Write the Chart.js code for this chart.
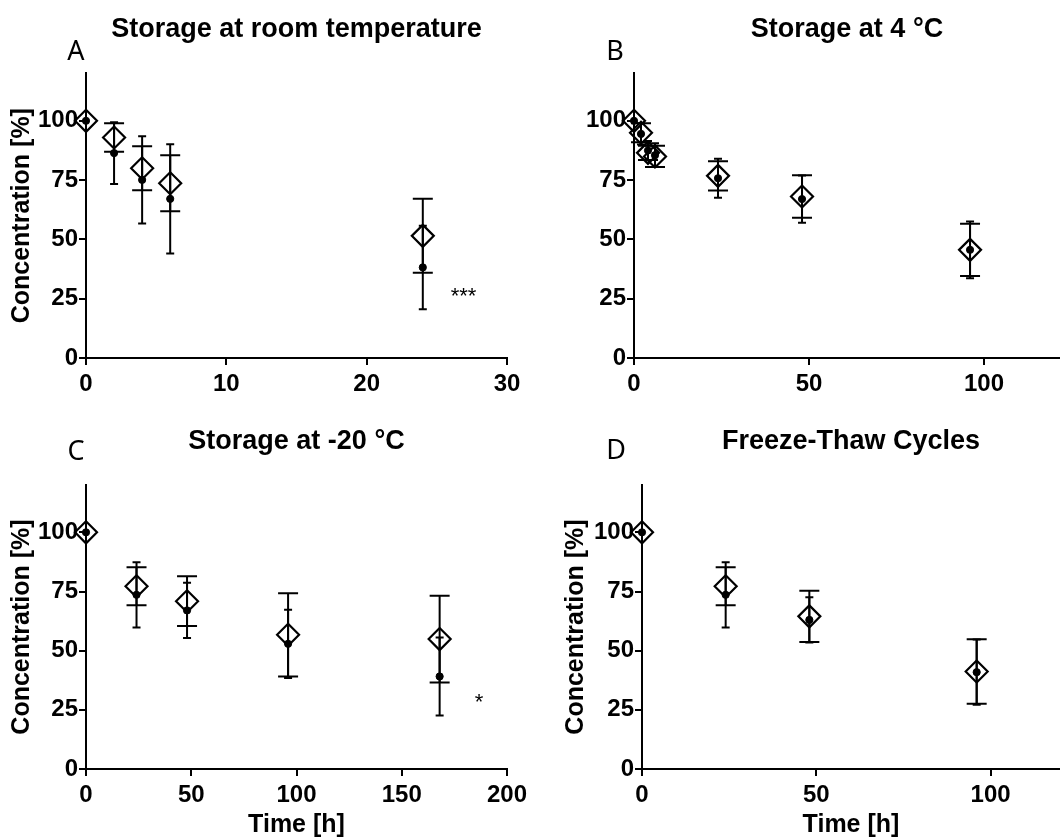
<!DOCTYPE html>
<html>
<head>
<meta charset="utf-8">
<script src="https://cdn.jsdelivr.net/npm/chart.js@4"></script>
<style>
  html, body { margin: 0; padding: 0; background: #fff; overflow: hidden; }
  .panel { position: absolute; }
</style>
</head>
<body>
<div class="panel" style="left:0;top:0"><canvas id="chartA" width="530" height="400"></canvas></div>
<div class="panel" style="left:530px;top:0"><canvas id="chartB" width="530" height="400"></canvas></div>
<div class="panel" style="left:0;top:400px"><canvas id="chartC" width="530" height="440"></canvas></div>
<div class="panel" style="left:530px;top:400px"><canvas id="chartD" width="530" height="440"></canvas></div>
<script>
// A: room temperature (open diamonds / filled dots, mean and SD)
var timeA = [0, 2, 4, 6, 24];
var diamondA = [100, 93, 80, 73.7, 51.5];
var diamondSdA = [0, 6, 9.3, 11.8, 15.6];
var dotA = [100, 86.4, 75.1, 67.1, 38.2];
var dotSdA = [0, 13, 18.4, 23, 17.6];
var noteA = ['***', 26.9, 28];

// B: 4 °C
var timeB = [0, 2, 4, 6, 24, 48, 96];
var diamondB = [100, 95, 86.5, 85, 76.8, 68.1, 45.6];
var diamondSdB = [0, 4, 3, 4.5, 6.2, 9, 11];
var dotB = [100, 94.5, 87.5, 85.5, 75.8, 67, 45.6];
var dotSdB = [0, 4.5, 4, 5, 8.2, 10, 12];

// C: -20 °C
var timeC = [0, 24, 48, 96, 168];
var diamondC = [100, 77.2, 70.9, 56.7, 54.9];
var diamondSdC = [0, 8, 10.5, 17.6, 18.3];
var dotC = [100, 73.6, 67, 52.9, 39.1];
var dotSdC = [0, 13.8, 11.7, 14.4, 16.5];
var noteC = ['*', 186.7, 30];

// D: freeze-thaw
var timeD = [0, 24, 48, 96];
var diamondD = [100, 77.2, 64.5, 41.2];
var diamondSdD = [0, 8, 10.8, 13.6];
var dotD = [100, 73.6, 63, 40.9];
var dotSdD = [0, 13.8, 9.6, 13.8];

var yTicks = [0, 25, 50, 75, 100];
var xTicksA = [0, 10, 20, 30];
var xTicksB = [0, 50, 100];
var xTicksC = [0, 50, 100, 150, 200];
var xTicksD = [0, 50, 100];

Chart.defaults.font.family = "'Liberation Sans', Arial, sans-serif";
Chart.defaults.color = '#000';

function points(xs, ys) {
  return xs.map(function (x, i) { return { x: x, y: ys[i] }; });
}

// draws SD bars under the markers, plus panel letter and significance stars
var extras = {
  id: 'extras',
  beforeDatasetsDraw: function (chart) {
    var ctx = chart.ctx, sx = chart.scales.x, sy = chart.scales.y;
    chart.data.datasets.forEach(function (ds) {
      ctx.save();
      ctx.strokeStyle = '#000';
      ctx.lineWidth = 2;
      ds.data.forEach(function (p, i) {
        var e = ds.sd[i];
        if (!e) return;
        var px = sx.getPixelForValue(p.x);
        var top = sy.getPixelForValue(p.y + e);
        var bot = sy.getPixelForValue(p.y - e);
        var w = ds.capHalf;
        ctx.beginPath();
        ctx.moveTo(px, top); ctx.lineTo(px, bot);
        ctx.moveTo(px - w, top); ctx.lineTo(px + w, top);
        ctx.moveTo(px - w, bot); ctx.lineTo(px + w, bot);
        ctx.stroke();
      });
      ctx.restore();
    });
  },
  afterDraw: function (chart, args, opts) {
    var ctx = chart.ctx;
    ctx.save();
    ctx.fillStyle = '#000';
    ctx.font = "27px 'Noto Sans', sans-serif";
    ctx.textAlign = 'center';
    ctx.textBaseline = 'middle';
    ctx.fillText(opts.letter, opts.letterX, opts.letterY);
    if (opts.note) {
      ctx.font = "22px 'Liberation Sans', Arial, sans-serif";
      ctx.textBaseline = 'alphabetic';
      ctx.fillText(opts.note[0], chart.scales.x.getPixelForValue(opts.note[1]),
        chart.scales.y.getPixelForValue(opts.note[2]) + 11);
    }
    ctx.restore();
  }
};

function makeChart(id, p) {
  var axisLine = { color: '#000', width: 2 };
  var tickGrid = { drawOnChartArea: false, drawTicks: true, tickLength: 7, color: '#000', lineWidth: 2 };
  return new Chart(document.getElementById(id), {
    type: 'scatter',
    data: {
      datasets: [
        {
          label: 'dot',
          data: points(p.time, p.dot),
          sd: p.dotSd,
          capHalf: 4,
          clip: false,
          pointStyle: 'circle',
          pointRadius: 3.6,
          backgroundColor: '#000',
          borderColor: '#000',
          borderWidth: 1
        },
        {
          label: 'diamond',
          data: points(p.time, p.diamond),
          sd: p.diamondSd,
          capHalf: 10,
          clip: false,
          pointStyle: 'rectRot',
          pointRadius: 11,
          backgroundColor: 'rgba(255,255,255,0)',
          borderColor: '#000',
          borderWidth: 2.2
        }
      ]
    },
    options: {
      responsive: false,
      animation: false,
      layout: { autoPadding: false, padding: { left: 0, right: p.padRight, top: 0, bottom: 0 } },
      plugins: {
        legend: { display: false },
        tooltip: { enabled: false },
        title: {
          display: true,
          text: p.title,
          fullSize: false,
          font: { size: 27, weight: 'bold' },
          padding: { top: p.titleTop, bottom: p.titleBottom }
        },
        extras: { letter: p.letter, letterX: p.letterX, letterY: p.letterY, note: p.note }
      },
      scales: {
        x: {
          type: 'linear',
          min: 0,
          max: p.xMax,
          border: axisLine,
          grid: tickGrid,
          afterBuildTicks: function (s) { s.ticks = p.xTicks.map(function (v) { return { value: v }; }); },
          afterFit: function (s) {
            s.height = p.xHeight;
            s.paddingLeft = 0;
            s.paddingRight = 0;
          },
          ticks: { autoSkip: false, maxRotation: 0, padding: 5, font: { size: 24, weight: 'bold' } },
          title: {
            display: p.xTitle,
            text: 'Time [h]',
            font: { size: 25, weight: 'bold' },
            padding: { top: 0, bottom: 0 }
          }
        },
        y: {
          min: 0,
          max: 120,
          border: axisLine,
          grid: tickGrid,
          afterBuildTicks: function (s) { s.ticks = yTicks.map(function (v) { return { value: v }; }); },
          afterFit: function (s) { s.width = p.yWidth; },
          ticks: { autoSkip: false, padding: 1, font: { size: 24, weight: 'bold' } },
          title: {
            display: p.yTitle,
            text: 'Concentration [%]',
            font: { size: 25, weight: 'bold' },
            padding: { top: p.yTitlePad, bottom: 0 }
          }
        }
      }
    },
    plugins: [extras]
  });
}

makeChart('chartA', {
  time: timeA, diamond: diamondA, diamondSd: diamondSdA, dot: dotA, dotSd: dotSdA,
  title: 'Storage at room temperature', letter: 'A', letterX: 76, letterY: 52, note: noteA,
  xMax: 30, xTicks: xTicksA, xTitle: false, xHeight: 42,
  yWidth: 86, yTitle: true, yTitlePad: 7, padRight: 23, titleTop: 13, titleBottom: 28
});
makeChart('chartB', {
  time: timeB, diamond: diamondB, diamondSd: diamondSdB, dot: dotB, dotSd: dotSdB,
  title: 'Storage at 4 °C', letter: 'B', letterX: 85, letterY: 52, note: null,
  xMax: 121.7, xTicks: xTicksB, xTitle: false, xHeight: 42,
  yWidth: 104, yTitle: false, yTitlePad: 0, padRight: 0, titleTop: 13, titleBottom: 28
});
makeChart('chartC', {
  time: timeC, diamond: diamondC, diamondSd: diamondSdC, dot: dotC, dotSd: dotSdC,
  title: 'Storage at -20 °C', letter: 'C', letterX: 76, letterY: 52, note: noteC,
  xMax: 200, xTicks: xTicksC, xTitle: true, xHeight: 71,
  yWidth: 86, yTitle: true, yTitlePad: 7, padRight: 23, titleTop: 25, titleBottom: 27.6
});
makeChart('chartD', {
  time: timeD, diamond: diamondD, diamondSd: diamondSdD, dot: dotD, dotSd: dotSdD,
  title: 'Freeze-Thaw Cycles', letter: 'D', letterX: 86, letterY: 51, note: null,
  xMax: 119.9, xTicks: xTicksD, xTitle: true, xHeight: 71,
  yWidth: 112, yTitle: true, yTitlePad: 31, padRight: 0, titleTop: 25, titleBottom: 27.6
});
</script>
</body>
</html>
